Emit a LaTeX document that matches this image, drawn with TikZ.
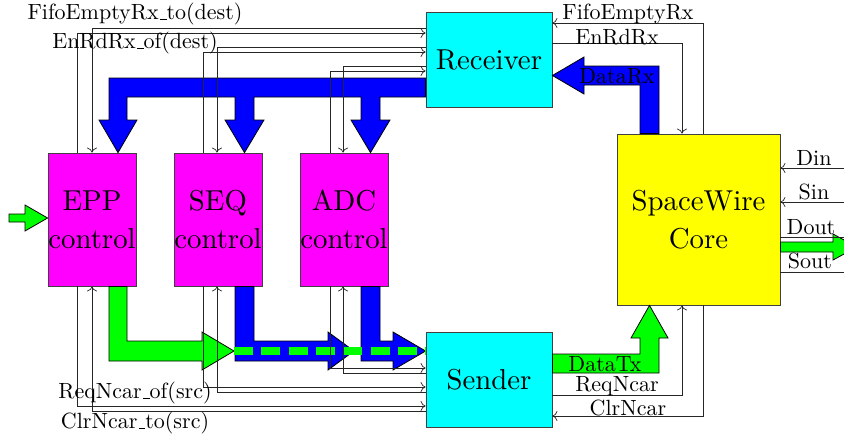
\documentclass[tikz,border=0pt]{standalone}
\usepackage{fontspec}
\setmainfont{lmroman10-regular}[Extension=.otf]
\usetikzlibrary{arrows.meta}

% pure screen colours
\definecolor{cyanfill}{RGB}{0,255,255}
\definecolor{magentafill}{RGB}{255,0,255}
\definecolor{yellowfill}{RGB}{255,255,0}
\definecolor{greenfill}{RGB}{0,255,0}
\definecolor{bluefill}{RGB}{0,0,255}

% text sizes
\newcommand\bigtxt{\fontsize{28.8}{38}\selectfont}
\newcommand\smtxt{\fontsize{22}{26}\selectfont}
% low underscore rule
\newcommand\usline{\leavevmode\kern.06em\vbox{\hrule width.3em}}

\tikzset{
  blk/.style={draw=black!75, line width=0.8pt, inner sep=0pt, align=center, font=\bigtxt},
  sig/.style={draw=black!85, line width=0.7pt},
  sigin/.style={sig, -{To[length=5pt,width=10pt]}},
  fat/.style={draw=black, line width=0.8pt, line join=miter},
  lbl/.style={font=\smtxt, inner sep=0pt},
}

\begin{document}
\begin{tikzpicture}[x=1pt, y=-1pt]
\useasboundingbox (0,0) rectangle (844,437);
\clip (0,0) rectangle (844,437);

% blocks
\node[blk, fill=magentafill, minimum width=88pt, minimum height=133pt] (epp) at (92,219.5) {EPP\\control};
\node[blk, fill=magentafill, minimum width=88pt, minimum height=133pt] (seq) at (218,219.5) {SEQ\\control};
\node[blk, fill=magentafill, minimum width=88pt, minimum height=133pt] (adc) at (344,219.5) {ADC\\control};
\node[blk, fill=cyanfill, minimum width=126pt, minimum height=95pt] (rx) at (489,59.5) {Receiver};
\node[blk, fill=cyanfill, minimum width=126pt, minimum height=95pt] (tx) at (489,379.5) {Sender};
\node[blk, fill=yellowfill, minimum width=163pt, minimum height=171pt] (swc) at (698.5,219.5) {SpaceWire\\Core};

% free ends at the picture border
\coordinate (inp) at (9,218);
\coordinate (din) at (846,168);
\coordinate (sin) at (846,202);
\coordinate (dout) at (849,237);
\coordinate (sout) at (849,272);

% received data fanned out to the control blocks
\draw[fat, fill=bluefill] (rx.west |- 0,78) -- (109,78) -- (109,120) -- (99,120) -- (epp.north -| 118,0)
  -- (137,120) -- (127,120) -- (127,97) -- (235,97) -- (235,120) -- (225,120) -- (seq.north -| 244.5,0)
  -- (264,120) -- (254,120) -- (254,97) -- (361,97) -- (361,120) -- (351,120) -- (adc.north -| 370.5,0)
  -- (390,120) -- (380,120) -- (380,97) -- (rx.west |- 0,97) -- cycle;

% DataRx
\draw[fat, fill=bluefill] (swc.north -| 640,0) -- (640,85) -- (584,85) -- (584,94) -- (rx.east |- 0,75.5)
  -- (584,57) -- (584,66) -- (659,66) -- (swc.north -| 659,0) -- cycle;

% DataTx
\draw[fat, fill=greenfill] (tx.east |- 0,354) -- (640,354) -- (640,338) -- (631,338) -- (swc.south -| 649.5,0)
  -- (668,338) -- (659,338) -- (659,373) -- (tx.east |- 0,373) -- cycle;

% control blocks to the sender
\draw[fat, fill=greenfill] (epp.south -| 109,0) -- (109,361) -- (202,361) -- (202,370) -- (234,351)
  -- (202,332) -- (202,341) -- (127,341) -- (epp.south -| 127,0) -- cycle;
\draw[fat, fill=bluefill] (seq.south -| 235,0) -- (235,361) -- (328,361) -- (328,370) -- (354,351)
  -- (328,332) -- (328,341) -- (254,341) -- (seq.south -| 254,0) -- cycle;
\draw[fat, fill=bluefill] (adc.south -| 361,0) -- (361,361) -- (393,361) -- (393,370) -- (tx.west |- 0,351)
  -- (393,332) -- (393,341) -- (380,341) -- (adc.south -| 380,0) -- cycle;
\draw[greenfill, line width=8pt, dash pattern=on 19pt off 8.3pt] (234,351) -- (tx.west |- 0,351);

% parallel input and output
\draw[fat, fill=greenfill] (inp |- 0,214) -- (25,214) -- (25,205) -- (epp.west |- inp)
  -- (25,231) -- (25,222) -- (inp |- 0,222) -- cycle;
\draw[fat, fill=greenfill] (swc.east |- 0,242) -- (833,242) -- (833,234) -- (857,247)
  -- (833,260) -- (833,252) -- (swc.east |- 0,252) -- cycle;

% control signals to and from the receiver
\draw[sigin] (epp.north -| 77,0) |- (rx.west |- 0,33);
\draw[sigin] (rx.west |- 0,28) -| (epp.north -| 92,0);
\draw[sigin] (seq.north -| 203,0) |- (rx.west |- 0,52);
\draw[sigin] (rx.west |- 0,47) -| (seq.north -| 217,0);
\draw[sigin] (adc.north -| 330,0) |- (rx.west |- 0,71);
\draw[sigin] (rx.west |- 0,66) -| (adc.north -| 343,0);

% control signals to and from the sender
\draw[sigin] (epp.south -| 77,0) |- (tx.west |- 0,406);
\draw[sigin] (tx.west |- 0,411) -| (epp.south -| 92,0);
\draw[sigin] (seq.south -| 203,0) |- (tx.west |- 0,387);
\draw[sigin] (tx.west |- 0,392) -| (seq.south -| 217,0);
\draw[sigin] (adc.south -| 330,0) |- (tx.west |- 0,368);
\draw[sigin] (tx.west |- 0,373) -| (adc.south -| 343,0);

% core handshakes
\draw[sigin] (swc.north -| 703,0) |- (rx.east |- 0,23);
\draw[sigin] (rx.east |- 0,43) -| (swc.north -| 682,0);
\draw[sigin] (tx.east |- 0,395) -| (swc.south -| 682,0);
\draw[sigin] (swc.south -| 703,0) |- (tx.east |- 0,416);

% link pins
\draw[sigin] (din) -- (swc.east |- din);
\draw[sigin] (sin) -- (swc.east |- sin);
\draw[sigin] (swc.east |- dout) -- (dout);
\draw[sigin] (swc.east |- sout) -- (sout);

% signal names
\node[lbl] (l1) at (135,14) {FifoEmptyRx\usline to(dest)};
\node[lbl] (l2) at (135,43) {EnRdRx\usline of(dest)};
\node[lbl] (l3) at (135,393) {ReqNcar\usline of(src)};
\node[lbl] (l4) at (135,423) {ClrNcar\usline to(src)};
\node[lbl] (l5) at (628,14) {FifoEmptyRx};
\node[lbl] (l6) at (617,37) {EnRdRx};
\node[lbl] (l7) at (617,76) {DataRx};
\node[lbl] (l8) at (605,364) {DataTx};
\node[lbl] (l9) at (617,386) {ReqNcar};
\node[lbl] (l10) at (628,408) {ClrNcar};
\node[lbl] (l11) at (814,158) {Din};
\node[lbl] (l12) at (814,192) {Sin};
\node[lbl] (l13) at (811,227) {Dout};
\node[lbl] (l14) at (810,261) {Sout};
\end{tikzpicture}
\end{document}
